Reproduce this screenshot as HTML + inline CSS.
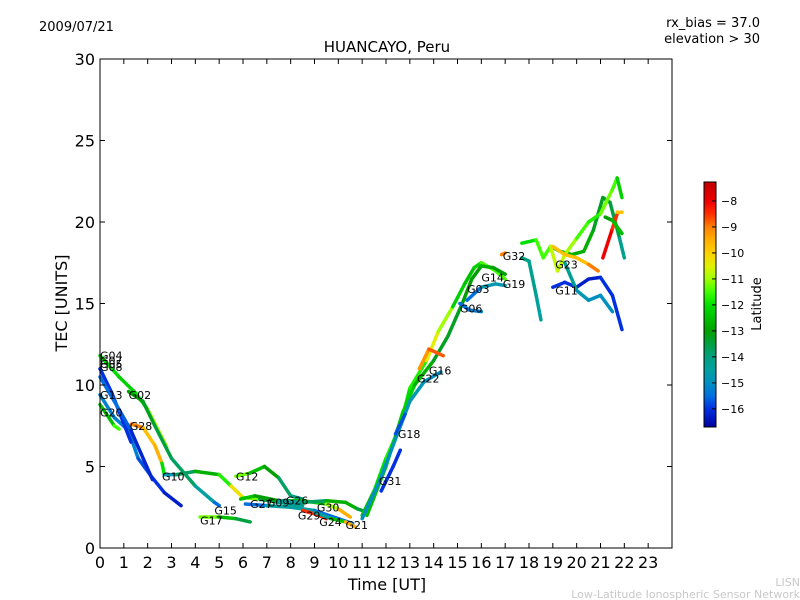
<!DOCTYPE html>
<html><head><meta charset="utf-8">
<style>
body{margin:0;background:#fff;}
svg{display:block;font-family:"DejaVu Sans","Liberation Sans",sans-serif;}
</style></head>
<body>
<svg id="chart" width="800" height="600" viewBox="0 0 800 600" xmlns="http://www.w3.org/2000/svg">
<defs>
<linearGradient id="jet" x1="0" y1="0" x2="0" y2="1"></linearGradient>
</defs>
<text x="39" y="31" font-size="13">2009/07/21</text>
<text x="760" y="27" font-size="13" text-anchor="end">rx_bias = 37.0</text>
<text x="760" y="43" font-size="13" text-anchor="end">elevation &gt; 30</text>
<text x="387" y="52" font-size="15" text-anchor="middle">HUANCAYO, Peru</text>
<g id="marks"></g>
<g id="labels"></g>
<g id="axes"></g>
<rect x="100" y="59" width="572" height="489" fill="none" stroke="#000" stroke-width="1"/>
<text x="387" y="590" font-size="16" text-anchor="middle">Time [UT]</text>
<text x="0" y="0" font-size="16" text-anchor="middle" transform="translate(67,303) rotate(-90)">TEC [UNITS]</text>
<rect x="704" y="182" width="12" height="245" fill="url(#jet)" stroke="#000" stroke-width="1"/>
<g id="cbticks"></g>
<text x="0" y="0" font-size="13" text-anchor="middle" transform="translate(761,304) rotate(-90)">Latitude</text>
<text x="800" y="586" font-size="11" fill="#c8c8c8" text-anchor="end">LISN</text>
<text x="800" y="598" font-size="11" fill="#c8c8c8" text-anchor="end">Low-Latitude Ionospheric Sensor Network</text>
</svg>
<script>
const xTicks=[0,1,2,3,4,5,6,7,8,9,10,11,12,13,14,15,16,17,18,19,20,21,22,23];
const yTicks=[0,5,10,15,20,25,30];
const cbTicks=[-8,-9,-10,-11,-12,-13,-14,-15,-16];
const trackTimes=[
[0,0.8,1.5,2,2.8],
[1.3,1.8,2.3,2.6,2.7,3.2,4,5,5.5,6,6.7,7.5,8.5],
[1.2,1.8,2.3,3,4,4.8,5],
[0,0.6,1.2,1.6,2.2,2.7,3.4],
[0,0.6,0.8],
[0,0.5,1.3],
[0,0.8,1.3,2.2],
[4.2,5,5.7,6.3],
[5.7,6.3,6.9,7.5,8,8.5],
[5.9,6.5,7.5,8.5,9.5,10,10.5],
[6.1,7,8,9,10,10.6],
[7.5,8.5,9.5,10.3,10.8,11.2],
[8.5,9,9.5],
[9,9.7,10.3,10.7],
[11,11.5,12,12.6,13,13.7,14.2,14.8,15.3,15.7,16,16.6,17],
[11.2,12,12.7,13.2,14,14.6,15.2,15.6,16,16.5,17],
[11,11.7,12.3,13,13.6,14.3],
[11.8,12.3,12.6],
[12.4,12.8],
[13.4,13.8,14.4],
[15.1,15.5,16],
[15.4,16,16.6,17],
[17.7,18,18.3,18.5],
[16.85,17],
[17.7,18.3,18.6,18.9,19.3,19.8,20.3,20.7,21.1,21.4,21.8,22],
[18.9,19.2,19.5,20,20.5,21,21.5,21.7,21.9],
[19,19.5,20,20.5,20.9],
[19,19.5,20,20.5,21,21.5,21.9],
[19.5,20,20.5,21,21.5],
[21.1,21.5,21.7],
[21.7,21.9],
[21.2,21.5,21.9]
];
const trackTec=[
[11.8,10.5,9.5,8.5,6.2],
[7.6,7.4,6.3,5.2,4.5,4.5,4.7,4.5,3.8,3.1,3,2.8,2.6],
[9.6,9,7.5,5.5,3.8,2.8,2.6],
[9.4,8,7.2,5.5,4.3,3.4,2.6],
[8.8,7.5,7.3],
[11,9.5,6.5],
[10.5,8.5,7.2,4.2],
[1.9,1.9,1.8,1.6],
[4.4,4.6,5,4.3,3.2,3],
[3,3.2,2.9,2.9,2.7,2.4,1.9],
[2.7,2.6,2.5,2.3,1.8,1.5],
[2.9,2.8,2.9,2.8,2.4,2.2],
[2.3,2.1,1.8],
[2.2,1.8,1.6,1.3],
[2,3.5,5.5,7.5,9.8,11.5,13.3,14.8,16.2,17.2,17.5,17,16.5],
[2,5,8.3,10,11.5,13,15,16.5,17.3,17.2,16.8],
[1.8,4,6.3,9,10.2,10.8],
[3.5,5,6],
[7,8.2],
[11,12.2,11.8],
[15,14.6,14.5],
[15.2,16,16.2,16.1],
[17.8,17.6,15.5,14],
[18,18.1],
[18.7,18.9,17.8,18.5,18.2,18,18.2,19.5,21.5,21.2,19,17.8],
[18.5,17,18,19,20,20.5,22,22.7,21.5],
[18.5,18,17.8,17.4,17],
[16,16.3,16,16.5,16.6,15.5,13.4],
[17.5,15.8,15.2,15.5,14.5],
[17.8,19.6,20.5],
[20.6,20.6],
[20.3,20.1,19.3]
];
const trackLat=[
[-12,-12,-12.5,-11.5,-10.5],
[-8.5,-9.5,-10,-9,-15,-14.5,-13,-12.5,-11,-9.5,-13,-14,-14.5],
[-13,-13,-13.5,-13.5,-14,-15,-16],
[-15,-15.5,-15,-15.5,-16,-16,-16.5],
[-13,-12,-11],
[-16,-16,-16],
[-15.5,-15.5,-15.8,-16.5],
[-10,-12.5,-12.5,-14.5],
[-10,-12.5,-12.5,-13.5,-14,-14],
[-12,-13,-13,-12.5,-12,-10,-9],
[-16,-15,-14,-15,-16,-15],
[-14.5,-14.5,-13,-12.5,-13,-14],
[-9,-8,-9],
[-15,-14,-11,-8],
[-13,-12,-12,-11.5,-12.5,-11,-10,-12,-12.5,-12.5,-12,-11,-12],
[-12.5,-12.5,-12,-12.5,-13,-13.5,-13,-13,-13,-12.5,-13.5],
[-15,-15,-15,-14.5,-15,-15],
[-16,-16,-16],
[-15.5,-16],
[-9,-9.5,-8],
[-16,-15,-15.5],
[-16,-15,-14.5,-15],
[-14,-14,-14.5,-14.5],
[-9,-9],
[-12,-12,-11,-12,-12.5,-13,-12.5,-13,-13.5,-13,-14,-14.5],
[-11,-10.5,-11,-11,-12,-11.5,-11,-12,-12.5],
[-10,-9.5,-10,-9.5,-8.5],
[-16,-16,-16,-16.5,-16,-16,-16],
[-14,-14.5,-15,-15,-15],
[-8,-8,-9],
[-9.5,-10],
[-13,-13,-12]
];
const labelNames=["G04","G07","G05","G08","G13","G02","G20","G28","G10","G12","G17","G15","G27","G09","G26","G30","G29","G24","G21","G31","G18","G22","G16","G06","G03","G14","G19","G32","G23","G11"];
const labelT=[0,0,0,0,0,1.2,0,1.25,2.6,5.7,4.2,4.8,6.3,7,7.8,9.1,8.3,9.2,10.3,11.7,12.5,13.3,13.8,15.1,15.4,16,16.9,16.9,19.1,19.1];
const labelTec=[11.8,11.5,11.3,11.1,9.4,9.4,8.3,7.5,4.4,4.4,1.7,2.3,2.7,2.8,2.9,2.5,2.0,1.6,1.4,4.1,7.0,10.4,10.9,14.7,15.9,16.6,16.2,17.9,17.4,15.8];

const NS='http://www.w3.org/2000/svg';
const X0=100,X1=672,Y0=548,Y1=59;
const xs=t=>X0+t*(X1-X0)/24;
const ys=v=>Y0-v*(Y0-Y1)/30;
const LTOP=-7.27,LBOT=-16.7;
const cy=l=>182+(l-LTOP)*(427-182)/(LBOT-LTOP);
const cmapL=[-7.27,-8,-8.5,-9,-9.5,-10,-10.5,-11,-11.5,-12,-12.5,-13,-13.5,-14,-14.5,-15,-15.5,-16,-16.7];
const cmapC=[[192,0,0],[238,0,0],[255,48,0],[255,128,0],[255,176,0],[255,208,0],[224,240,0],[160,255,0],[64,255,0],[0,224,0],[0,192,0],[0,160,0],[0,160,64],[0,160,128],[0,160,160],[0,144,192],[0,112,224],[0,48,224],[0,0,160]];
function jet(l){
  if(l>=cmapL[0]) return `rgb(${cmapC[0]})`;
  for(let i=0;i<cmapL.length-1;i++){
    if(l<=cmapL[i]&&l>=cmapL[i+1]){
      const f=(cmapL[i]-l)/(cmapL[i]-cmapL[i+1]);
      const c=cmapC[i].map((v,k)=>Math.round(v+(cmapC[i+1][k]-v)*f));
      return `rgb(${c})`;
    }
  }
  return `rgb(${cmapC[cmapC.length-1]})`;
}
const grad=document.getElementById('jet');
cmapL.forEach((l,i)=>{
  const s=document.createElementNS(NS,'stop');
  s.setAttribute('offset',(l-LTOP)/(LBOT-LTOP));
  s.setAttribute('stop-color',`rgb(${cmapC[i]})`);
  grad.appendChild(s);
});
const marks=document.getElementById('marks');
trackTimes.forEach((tt,i)=>{
  const g=document.createElementNS(NS,'g');
  
  
  for(let j=0;j<tt.length-1;j++){
    const ln=document.createElementNS(NS,'line');
    
    
    ln.setAttribute('x1',xs(tt[j]));ln.setAttribute('y1',ys(trackTec[i][j]));
    ln.setAttribute('x2',xs(tt[j+1]));ln.setAttribute('y2',ys(trackTec[i][j+1]));
    ln.setAttribute('stroke',jet((trackLat[i][j]+trackLat[i][j+1])/2));
    ln.setAttribute('stroke-width','3.5');ln.setAttribute('stroke-linecap','round');
    g.appendChild(ln);
  }
  marks.appendChild(g);
});
const lab=document.getElementById('labels');
labelNames.forEach((n,i)=>{
  const t=document.createElementNS(NS,'text');
  
  
  t.setAttribute('x',xs(labelT[i]));t.setAttribute('y',ys(labelTec[i])+4);
  t.setAttribute('font-size','11');t.textContent=n;lab.appendChild(t);
});
const ax=document.getElementById('axes');
function line(x1,y1,x2,y2,name){
  const l=document.createElementNS(NS,'line');
  
  
  l.setAttribute('x1',x1);l.setAttribute('y1',y1);l.setAttribute('x2',x2);l.setAttribute('y2',y2);
  l.setAttribute('stroke','#000');l.setAttribute('stroke-width','1');ax.appendChild(l);
}
function txt(x,y,s,anchor,size,parent,name){
  const t=document.createElementNS(NS,'text');
  
  
  t.setAttribute('x',x);t.setAttribute('y',y);t.setAttribute('text-anchor',anchor);
  t.setAttribute('font-size',size);t.textContent=s;parent.appendChild(t);
}
xTicks.forEach(v=>{
  const x=xs(v);
  line(x,Y0,x,Y0-5,'x-tick');line(x,Y1,x,Y1+5,'x-tick-top');
  txt(x,568,String(v),'middle',16,ax,'x-tick-label');
});
yTicks.forEach(v=>{
  const y=ys(v);
  line(X0,y,X0+5,y,'y-tick');line(X1,y,X1-5,y,'y-tick-right');
  txt(95,y+6,String(v),'end',16,ax,'y-tick-label');
});
const cb=document.getElementById('cbticks');
cbTicks.forEach(v=>{
  const y=cy(v);
  const l=document.createElementNS(NS,'line');
  
  
  l.setAttribute('x1',712);l.setAttribute('x2',716);l.setAttribute('y1',y);l.setAttribute('y2',y);
  l.setAttribute('stroke','#000');cb.appendChild(l);
  txt(721,y+4,'\u2212'+Math.abs(v),'start',11,cb,'colorbar-tick-label');
});
</script>
</body></html>
